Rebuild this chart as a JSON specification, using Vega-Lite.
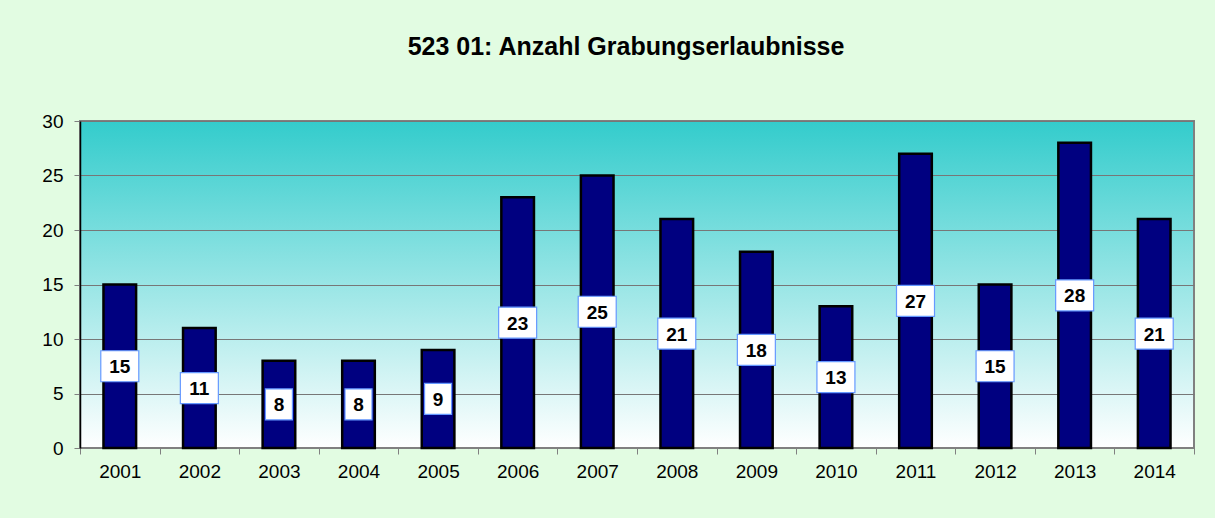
{
  "$schema": "https://vega.github.io/schema/vega-lite/v6.json",
  "width": 1114,
  "height": 327,
  "autosize": {"type": "none"},
  "padding": {"left": 80, "top": 121, "right": 21, "bottom": 70},
  "background": "#E2FCE2",
  "title": {
    "text": "523 01: Anzahl Grabungserlaubnisse",
    "font": "Liberation Sans",
    "fontSize": 25,
    "fontWeight": "bold",
    "color": "#000000",
    "anchor": "middle",
    "dx": -11,
    "offset": 52
  },
  "config": {
    "view": {
      "fill": {
        "gradient": "linear",
        "x1": 0, "y1": 0, "x2": 0, "y2": 1,
        "stops": [
          {"offset": 0, "color": "#33CCCC"},
          {"offset": 1, "color": "#FFFFFF"}
        ]
      },
      "stroke": "#808080",
      "strokeWidth": 2
    },
    "axis": {
      "labelFont": "Liberation Sans",
      "labelFontSize": 19,
      "labelColor": "#000000",
      "tickColor": "#808080",
      "tickSize": 6,
      "domainColor": "#000000",
      "title": null
    }
  },
  "data": {
    "values": [
      {"year": "2001", "n": 15},
      {"year": "2002", "n": 11},
      {"year": "2003", "n": 8},
      {"year": "2004", "n": 8},
      {"year": "2005", "n": 9},
      {"year": "2006", "n": 23},
      {"year": "2007", "n": 25},
      {"year": "2008", "n": 21},
      {"year": "2009", "n": 18},
      {"year": "2010", "n": 13},
      {"year": "2011", "n": 27},
      {"year": "2012", "n": 15},
      {"year": "2013", "n": 28},
      {"year": "2014", "n": 21}
    ]
  },
  "encoding": {
    "x": {
      "field": "year",
      "type": "ordinal",
      "scale": {"paddingInner": 0, "paddingOuter": 0},
      "axis": {"labelAngle": 0, "tickBand": "extent", "labelPadding": 8, "domainColor": "#808080"}
    }
  },
  "layer": [
    {
      "mark": {"type": "bar", "fill": "#000080", "stroke": "#000000", "strokeWidth": 2.5, "width": {"band": 0.41}},
      "encoding": {
        "y": {
          "field": "n",
          "type": "quantitative",
          "scale": {"domain": [0, 30], "nice": false},
          "axis": {"values": [0, 5, 10, 15, 20, 25, 30], "grid": true, "gridColor": "#777777", "gridWidth": 1.2, "labelPadding": 11, "domainWidth": 1.5}
        }
      }
    },
    {
      "transform": [{"calculate": "datum.n / 2", "as": "mid"}],
      "mark": {"type": "point", "filled": true, "fill": "#FFFFFF", "fillOpacity": 1, "stroke": "#6699FF", "strokeWidth": 1.2, "opacity": 1, "size": 1600},
      "encoding": {
        "y": {"field": "mid", "type": "quantitative"},
        "shape": {
          "condition": {"test": "datum.n < 10", "value": "M-0.675,-0.775H0.675V0.775H-0.675Z"},
          "value": "M-0.95,-0.775H0.95V0.775H-0.95Z"
        }
      }
    },
    {
      "transform": [{"calculate": "datum.n / 2", "as": "mid"}],
      "mark": {"type": "text", "font": "Liberation Sans", "fontSize": 19, "fontWeight": "bold", "color": "#000000", "baseline": "middle", "dy": 1},
      "encoding": {
        "y": {"field": "mid", "type": "quantitative"},
        "text": {"field": "n", "type": "quantitative"}
      }
    }
  ]
}
